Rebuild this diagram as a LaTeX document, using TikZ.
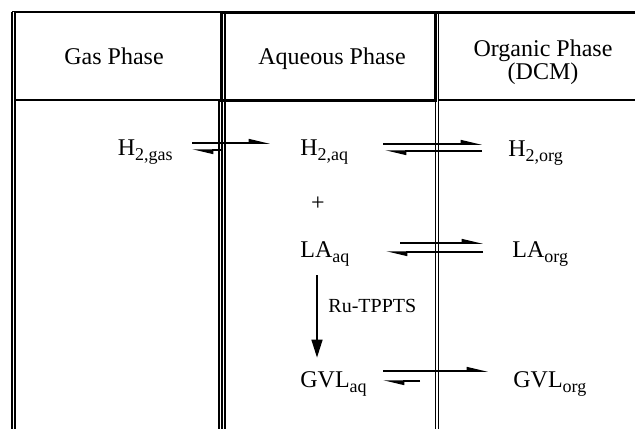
\documentclass[tikz,border=0pt]{standalone}
\usepackage{fontspec}
\setmainfont{Liberation Serif}
\usetikzlibrary{arrows.meta}
\newcommand{\phsub}[1]{\raisebox{-2.6pt}{\fontsize{9}{10}\selectfont #1}}
\begin{document}
\begin{tikzpicture}[x=0.5pt,y=-0.5pt,
    thinrule/.style={line width=0.6pt},
    dblrule/.style={double, double distance=0.9pt, line width=0.6pt},
    thickrule/.style={line width=1.5pt},
    head/.style={font=\fontsize{12}{11.5}\selectfont, align=center},
    species/.style={inner sep=0pt, text height=8pt, text depth=3pt,
      font=\fontsize{12}{14}\selectfont},
    eq/.style={line width=0.75pt, -{Triangle[harpoon,length=9pt,width=4pt]}},
    rxn/.style={line width=0.75pt, -{Triangle[length=9pt,width=5.5pt]}}]
  \useasboundingbox (0,0) rectangle (635,429);
  % table rules
  \draw[thinrule] (12,12) -- (221,12);
  \draw[thinrule] (13,100) -- (635,100);
  \draw[dblrule] (13.5,12) -- (13.5,429);
  \draw[dblrule] (223.5,12) -- (223.5,429);
  \draw[thinrule] (219,100) -- (219,429);
  \draw[dblrule] (437,12) -- (437,429);
  \draw[thickrule] (221.5,12) rectangle (435.5,100);
  \draw[thickrule] (435.5,12) -- (635,12);
  % headings
  \node[head, anchor=base] (gashead) at (114,64) {Gas Phase};
  \node[head, anchor=base] (aqhead) at (332,64) {Aqueous Phase};
  \node[head] (orghead) at (543,62) {Organic Phase\\(DCM)};
  % species
  \node[species, anchor=base east] (h2gas) at (173,155) {H\phsub{2,gas}};
  \node[species, anchor=base west] (h2aq) at (300,155) {H\phsub{2,aq}};
  \node[species, anchor=base west] (h2org) at (508,156) {H\phsub{2,org}};
  \node[species] (plus) at (318,205) {+};
  \node[species, anchor=base west] (laaq) at (300,257) {LA\phsub{aq}};
  \node[species, anchor=base west] (laorg) at (512,257) {LA\phsub{org}};
  \node[species, anchor=base west] (gvlaq) at (300,387) {GVL\phsub{aq}};
  \node[species, anchor=base west] (gvlorg) at (513,387) {GVL\phsub{org}};
  % equilibria
  \draw[eq] ([xshift=9.5pt,yshift=3.5pt]h2gas.east) -- ([xshift=-15pt,yshift=3.5pt]h2aq.west);
  \draw[eq] ([xshift=-39pt]h2aq.west) -- ([xshift=9.5pt]h2gas.east);
  \draw[eq] ([xshift=41.5pt,yshift=3pt]h2aq.west) -- ([xshift=-13pt,yshift=3.5pt]h2org.west);
  \draw[eq] ([xshift=-13pt]h2org.west) -- ([xshift=42.5pt,yshift=-0.5pt]h2aq.west);
  \draw[eq] ([xshift=50pt,yshift=4.5pt]laaq.west) -- ([xshift=-14.5pt,yshift=4.5pt]laorg.west);
  \draw[eq] ([xshift=-14.5pt]laorg.west) -- ([xshift=43pt]laaq.west);
  \draw[eq] ([xshift=41.5pt,yshift=5.5pt]gvlaq.west) -- ([xshift=-12.5pt,yshift=5.5pt]gvlorg.west);
  \draw[eq] ([xshift=60pt,yshift=0.5pt]gvlaq.west) -- ([xshift=41.5pt,yshift=0.5pt]gvlaq.west);
  % reaction
  \draw[rxn] ([xshift=8.5pt,yshift=-6pt]laaq.south west) -- ([xshift=8.5pt,yshift=6.5pt]gvlaq.north west)
    node[pos=0.37, right=2pt, font=\fontsize{10}{12}\selectfont] {Ru-TPPTS};
\end{tikzpicture}
\end{document}
